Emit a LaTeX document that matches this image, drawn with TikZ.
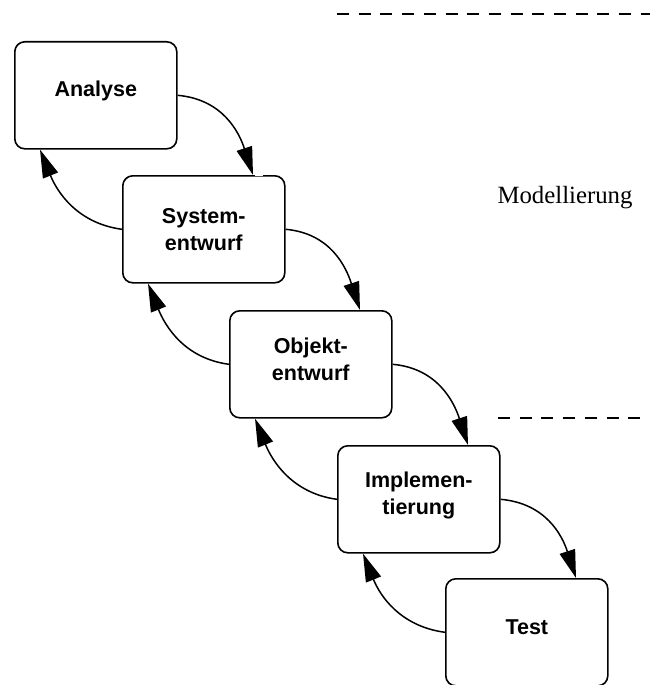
\documentclass[tikz,border=0pt]{standalone}
\usepackage{fontspec}
\setmainfont{Liberation Serif}
\setsansfont{Liberation Sans}
\usetikzlibrary{arrows.meta,calc}
\begin{document}
\begin{tikzpicture}[x=1pt,y=-1pt,
  phase/.style={draw, line width=1.6pt, rounded corners=10pt,
    minimum width=162pt, minimum height=107pt, inner sep=0pt, anchor=north west},
  lbl/.style={font=\sffamily\bfseries\fontsize{21.5}{27}\selectfont,
    align=center, anchor=base, inner sep=0pt},
  flow/.style={line width=1.5pt, -{Triangle[length=28pt,width=16pt]}},
  sep/.style={line width=1.8pt, dash pattern=on 12pt off 9.7pt}]
\useasboundingbox (0,0) rectangle (650,685);

% phase boxes, staircase from top left to bottom right
\node[phase] (b1) at (14,41) {};
\node[phase] (b2) at (122,175) {};
\node[phase] (b3) at (229,310) {};
\node[phase] (b4) at (337,445) {};
\node[phase] (b5) at (445,578) {};

% labels (base anchor sits on the last line)
\node[lbl] (t1) at ($(b1.north)+(0,55)$) {Analyse};
\node[lbl] (t2) at ($(b2.north)+(0,75)$) {System-\\entwurf};
\node[lbl] (t3) at ($(b3.north)+(0,70)$) {Objekt-\\entwurf};
\node[lbl] (t4) at ($(b4.north)+(0,69)$) {Implemen-\\tierung};
\node[lbl] (t5) at ($(b5.north)+(0,56)$) {Test};

% small break in the top edge next to the arrow tip
\draw[white, line width=2.5pt] ($(b2.north west)+(133,0)$) -- +(8,0);

% forward arrows (east side down to the next phase)
\foreach \a/\b in {b1/b2, b2/b3, b3/b4, b4/b5}{
  \draw[flow] (\a.east) .. controls +(45,4) and +(-14,-43) .. ($(\b.north west)+(131,0)$);
}
% backward arrows (west side up to the previous phase)
\foreach \a/\b in {b2/b1, b3/b2, b4/b3, b5/b4}{
  \draw[flow] (\a.west) .. controls +(-45,-6) and +(17,42) .. ($(\b.south west)+(26,0)$);
}

% region separators and label
\coordinate (d1a) at (337,14);  \coordinate (d1b) at (650,14);
\coordinate (d2a) at (498,418); \coordinate (d2b) at (650,418);
\draw[sep] (d1a) -- (d1b);
\draw[sep] (d2a) -- (d2b);
\node[anchor=base, inner sep=0pt, font=\fontsize{24.8}{30}\selectfont] (mod) at (565,203) {Modellierung};
\end{tikzpicture}
\end{document}
